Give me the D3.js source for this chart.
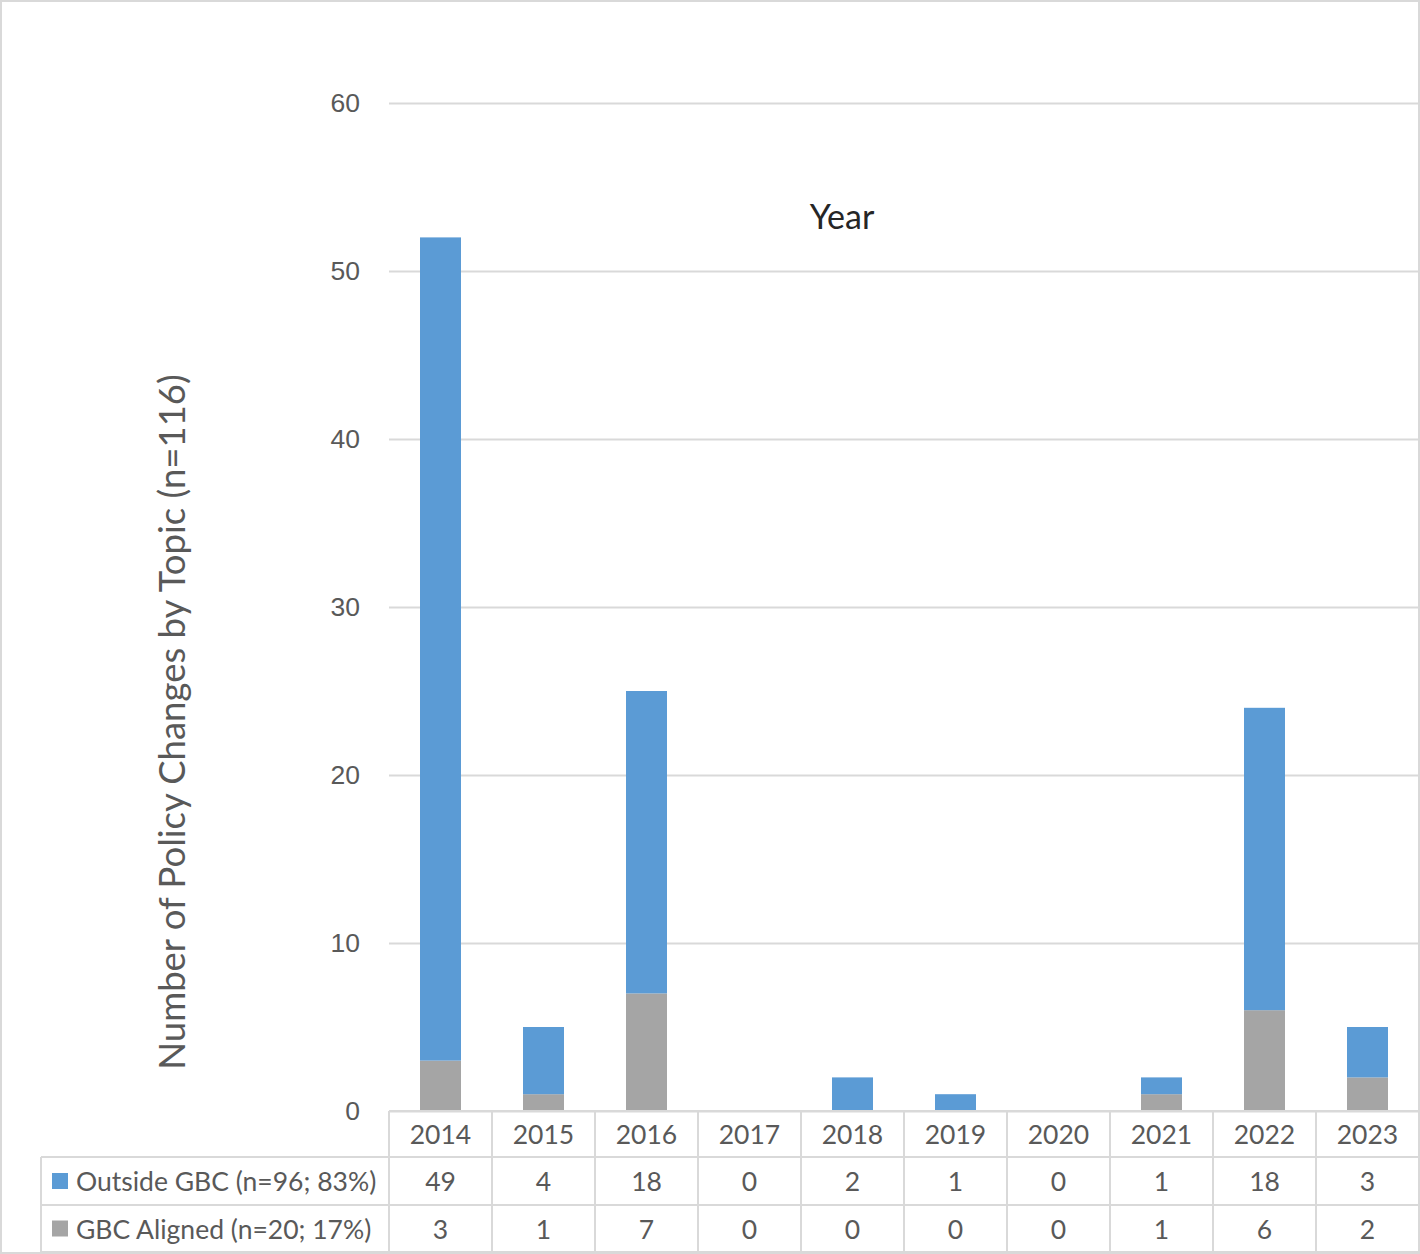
<!DOCTYPE html>
<html>
<head>
<meta charset="utf-8">
<script src="https://cdn.jsdelivr.net/npm/d3@7"></script>
<style>
  body { margin: 0; background: #fff; }
  svg { display: block; font-family: Lato, "Open Sans", sans-serif; }
</style>
</head>
<body>
<div class="chart-container"></div>
<script>
// Data
const years = ["2014", "2015", "2016", "2017", "2018", "2019", "2020", "2021", "2022", "2023"];
const gbcAligned = [3, 1, 7, 0, 0, 0, 0, 1, 6, 2];
const outsideGbc = [49, 4, 18, 0, 2, 1, 0, 1, 18, 3];
const seriesNames = ["Outside GBC (n=96; 83%)", "GBC Aligned (n=20; 17%)"];
const yTicks = [0, 10, 20, 30, 40, 50, 60];

const width = 1420, height = 1254;
const margin = { top: 103, right: 1, bottom: 143, left: 389 };
const textColor = "#595959";
const gridColor = "#d9d9d9";
const colors = { outside: "#5b9bd5", aligned: "#a5a5a5" };

const svg = d3.select(".chart-container")
  .append("svg")
    .attr("width", width)
    .attr("height", height);

// outer frame
svg.append("rect")
  .attr("x", 1).attr("y", 1)
  .attr("width", width - 2).attr("height", height - 2)
  .attr("fill", "#fff")
  .attr("stroke", gridColor)
  .attr("stroke-width", 2);

const xScale = d3.scaleBand()
  .domain(years)
  .range([margin.left, width - margin.right])
  .paddingInner(0)
  .paddingOuter(0);

const yScale = d3.scaleLinear()
  .domain([0, 60])
  .range([height - margin.bottom, margin.top]);

// gridlines + tick labels
const yAxis = d3.axisLeft(yScale)
  .tickValues(yTicks)
  .tickSize(-(width - margin.right - margin.left))
  .tickPadding(29);

const yAxisGroup = svg.append("g")
  .attr("transform", `translate(${margin.left},0)`)
  .call(yAxis);
yAxisGroup.select(".domain").remove();
yAxisGroup.selectAll(".tick line")
  .attr("stroke", gridColor)
  .attr("stroke-width", 2);
yAxisGroup.selectAll(".tick text")
  .attr("fill", textColor)
  .style("font-size", "26.5px");

// stacked bars
const stackData = years.map((y, i) => ({ year: y, aligned: gbcAligned[i], outside: outsideGbc[i] }));
const stack = d3.stack().keys(["aligned", "outside"]);
const layers = stack(stackData);

const barWidth = 41;
svg.append("g")
  .selectAll("g")
  .data(layers)
  .join("g")
    .attr("fill", d => colors[d.key])
  .selectAll("rect")
  .data(d => d.filter(p => p[1] - p[0] > 0))
  .join("rect")
    .attr("x", d => xScale(d.data.year) + xScale.bandwidth() / 2 - barWidth / 2)
    .attr("width", barWidth)
    .attr("y", d => yScale(d[1]))
    .attr("height", d => yScale(d[0]) - yScale(d[1]));

// "Year" title
svg.append("text")
  .attr("x", 842)
  .attr("y", 229)
  .attr("text-anchor", "middle")
  .attr("fill", "#262626")
  .style("font-size", "34px")
  .text("Year");

// y axis title
svg.append("text")
  .attr("transform", `translate(185,${722}) rotate(-90)`)
  .attr("text-anchor", "middle")
  .attr("fill", textColor)
  .style("font-size", "36.5px")
  .text("Number of Policy Changes by Topic (n=116)");

// data table
const rowTop = yScale(0);
const rowH = [46, 48, 47];
const rowY = [rowTop, rowTop + rowH[0], rowTop + rowH[0] + rowH[1], rowTop + rowH[0] + rowH[1] + rowH[2]];
const tableLeft = 41;
const right = width - margin.right;
const table = svg.append("g");

const lines = [
  // horizontal lines
  [xScale.range()[0], rowY[0], right, rowY[0]],
  [tableLeft, rowY[1], right, rowY[1]],
  [tableLeft, rowY[2], right, rowY[2]],
  [tableLeft, rowY[3], right, rowY[3]],
  [tableLeft, rowY[1], tableLeft, rowY[3]]
];
years.forEach(y => lines.push([xScale(y), rowY[0], xScale(y), rowY[3]]));
lines.push([right, rowY[0], right, rowY[3]]);

table.selectAll("line")
  .data(lines)
  .join("line")
    .attr("x1", d => d[0]).attr("y1", d => d[1])
    .attr("x2", d => d[2]).attr("y2", d => d[3])
    .attr("stroke", gridColor)
    .attr("stroke-width", 2);

const cellText = (row, values) => {
  table.append("g")
    .selectAll("text")
    .data(values)
    .join("text")
      .attr("x", (d, i) => xScale(years[i]) + xScale.bandwidth() / 2)
      .attr("y", (rowY[row] + rowY[row + 1]) / 2 + 10)
      .attr("text-anchor", "middle")
      .attr("fill", textColor)
      .style("font-size", "26.5px")
      .text(d => d);
};
cellText(0, years);
cellText(1, outsideGbc);
cellText(2, gbcAligned);

// legend keys in the table
[["outside", 1], ["aligned", 2]].forEach(([key, row], i) => {
  const cy = (rowY[row] + rowY[row + 1]) / 2;
  table.append("rect")
    .attr("x", 52).attr("y", cy - 8)
    .attr("width", 16).attr("height", 16)
    .attr("fill", colors[key]);
  table.append("text")
    .attr("x", 76).attr("y", cy + 10)
    .attr("fill", textColor)
    .style("font-size", "26.5px")
    .text(seriesNames[i]);
});
</script>
</body>
</html>
